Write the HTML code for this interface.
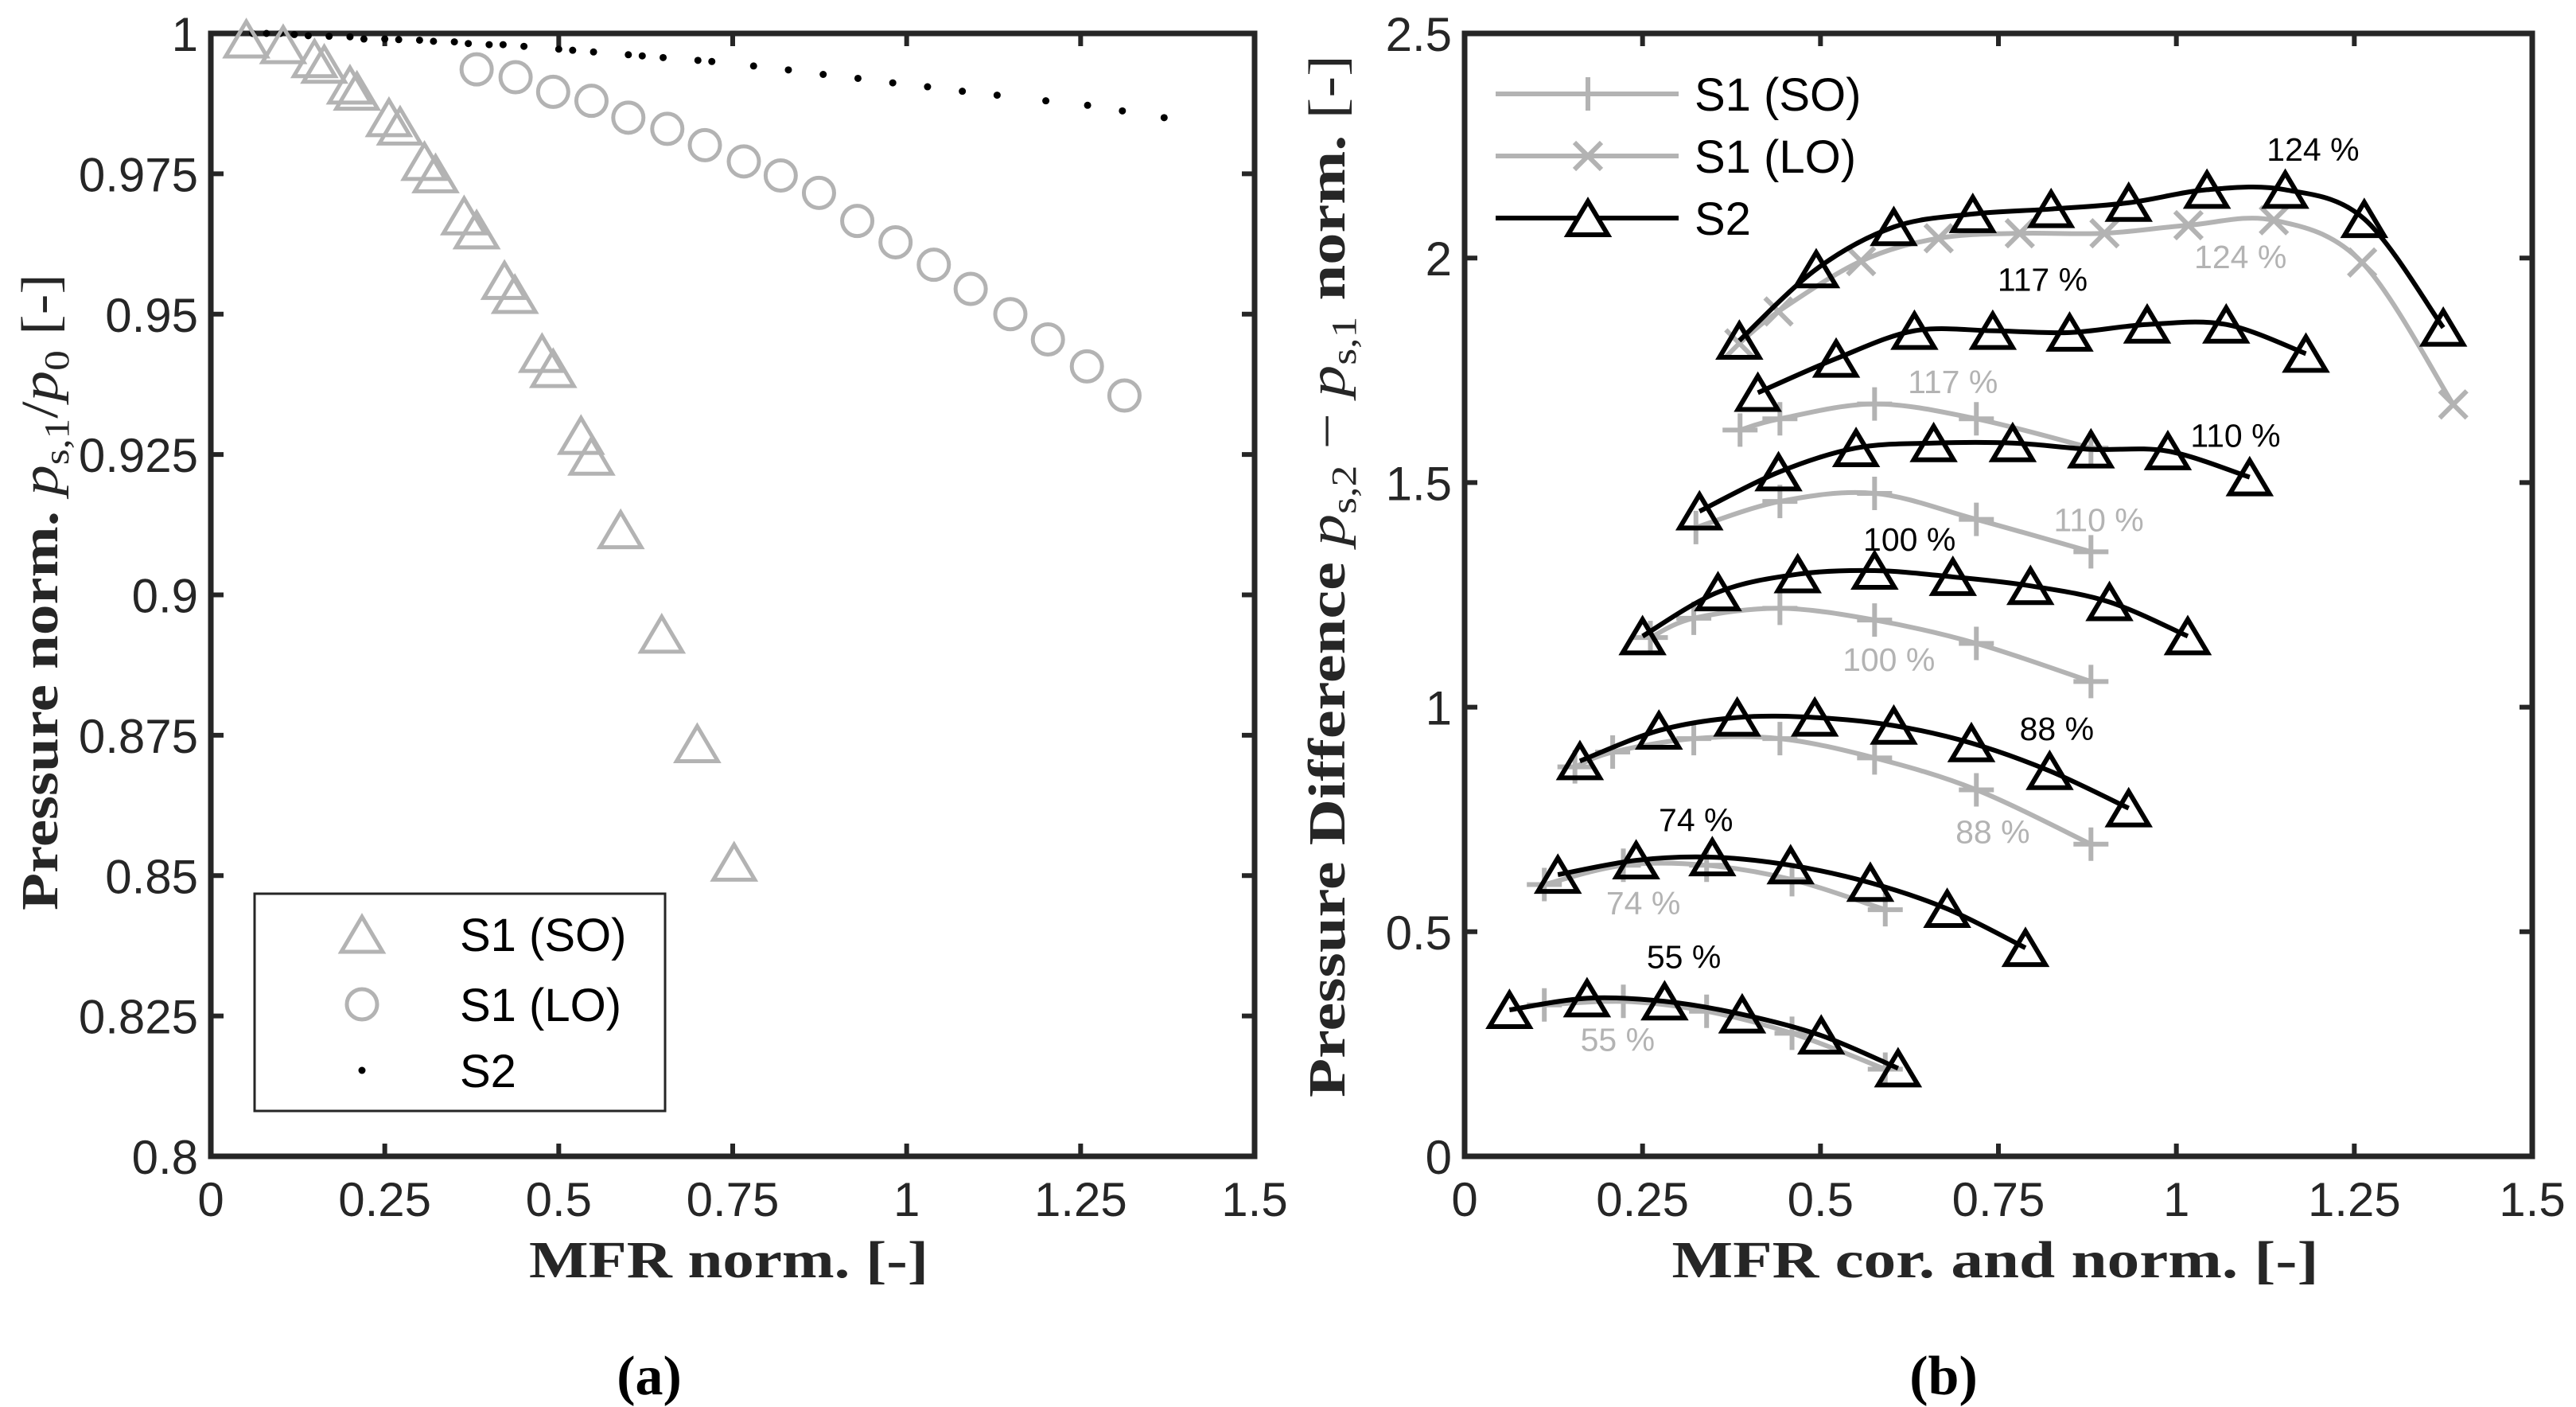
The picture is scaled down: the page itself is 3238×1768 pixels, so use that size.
<!DOCTYPE html>
<html><head><meta charset="utf-8"><style>
html,body{margin:0;padding:0;background:#fff;}
svg{display:block;}
</style></head><body>
<svg id="fig" xmlns="http://www.w3.org/2000/svg" width="3238" height="1768" viewBox="0 0 3238 1768">
<rect width="3238" height="1768" fill="#fff"/>
<g id="pa"></g>
<g id="pb"></g>
</svg>
<script>
// ---------- Panel (a) data ----------
const aXTicks = [0, 0.25, 0.5, 0.75, 1, 1.25, 1.5];
const aXTickLabels = ["0", "0.25", "0.5", "0.75", "1", "1.25", "1.5"];
const aYTicks = [0.8, 0.825, 0.85, 0.875, 0.9, 0.925, 0.95, 0.975, 1];
const aYTickLabels = ["0.8", "0.825", "0.85", "0.875", "0.9", "0.925", "0.95", "0.975", "1"];
const soX = [0.051,0.104,0.149,0.163,0.2,0.21,0.256,0.272,0.307,0.323,0.364,0.382,0.422,0.437,0.476,0.492,0.532,0.547,0.589,0.648,0.699,0.752];
const soY = [0.999,0.998,0.9955,0.9945,0.9908,0.9897,0.985,0.9835,0.9772,0.975,0.9675,0.965,0.956,0.9535,0.943,0.9403,0.9284,0.9247,0.9116,0.893,0.8735,0.8524];
const loX = [0.382,0.438,0.492,0.547,0.6,0.656,0.71,0.766,0.819,0.874,0.929,0.984,1.039,1.092,1.149,1.203,1.259,1.313];
const loY = [0.9936,0.9922,0.9896,0.988,0.985,0.983,0.9801,0.9772,0.9747,0.9716,0.9666,0.9628,0.9588,0.9545,0.95,0.9455,0.9407,0.9355];
const s2aX = [0.06,0.08,0.1,0.12,0.14,0.17,0.2,0.22,0.25,0.27,0.3,0.32,0.35,0.37,0.4,0.42,0.45,0.5,0.52,0.55,0.6,0.62,0.65,0.7,0.72,0.78,0.83,0.88,0.93,0.98,1.03,1.08,1.13,1.2,1.26,1.31,1.37];
const s2aY = [1.0,1.0,1.0,0.9998,0.9996,0.9995,0.9994,0.999,0.999,0.9989,0.9988,0.9986,0.9985,0.9982,0.998,0.998,0.9977,0.9972,0.997,0.9967,0.9962,0.996,0.9957,0.9952,0.995,0.9942,0.9935,0.9927,0.992,0.9912,0.9905,0.9897,0.989,0.988,0.9872,0.9862,0.985];

// ---------- Panel (b) data ----------
const bXTicks = [0, 0.25, 0.5, 0.75, 1, 1.25, 1.5];
const bXTickLabels = ["0", "0.25", "0.5", "0.75", "1", "1.25", "1.5"];
const bYTicks = [0, 0.5, 1, 1.5, 2, 2.5];
const bYTickLabels = ["0", "0.5", "1", "1.5", "2", "2.5"];
const speeds = ["55 %", "74 %", "88 %", "100 %", "110 %", "117 %", "124 %"];
const s2X = [
 [0.063,0.172,0.281,0.39,0.501,0.609],
 [0.131,0.241,0.348,0.458,0.570,0.678,0.788],
 [0.162,0.273,0.383,0.492,0.603,0.712,0.822,0.933],
 [0.250,0.356,0.468,0.576,0.686,0.795,0.906,1.016],
 [0.330,0.441,0.550,0.659,0.770,0.880,0.988,1.103],
 [0.412,0.522,0.632,0.742,0.850,0.959,1.070,1.182],
 [0.386,0.494,0.603,0.714,0.824,0.933,1.043,1.153,1.264,1.375]
];
const s2Y = [
 [0.326,0.352,0.345,0.316,0.269,0.196],
 [0.627,0.659,0.666,0.648,0.609,0.551,0.464],
 [0.88,0.948,0.977,0.977,0.959,0.92,0.858,0.775],
 [1.158,1.256,1.296,1.304,1.29,1.27,1.234,1.158],
 [1.436,1.523,1.577,1.588,1.588,1.574,1.57,1.512],
 [1.70,1.776,1.838,1.838,1.834,1.852,1.852,1.787],
 [1.816,1.975,2.069,2.098,2.109,2.123,2.152,2.152,2.087,1.845]
];
const soBX = [
 [0.112,0.223,0.340,0.460,0.591],
 [0.112,0.223,0.340,0.460,0.591],
 [0.155,0.208,0.322,0.443,0.576,0.719,0.880],
 [0.261,0.322,0.443,0.576,0.719,0.880],
 [0.325,0.443,0.576,0.719,0.880],
 [0.387,0.443,0.576,0.719,0.880],
 []
];
const soBY = [
 [0.337,0.345,0.323,0.274,0.194],
 [0.605,0.648,0.648,0.616,0.549],
 [0.867,0.9,0.93,0.93,0.887,0.816,0.695],
 [1.155,1.198,1.22,1.194,1.142,1.057],
 [1.40,1.458,1.476,1.418,1.346],
 [1.617,1.642,1.675,1.642,1.577],
 []
];
const loBX = [0.386,0.441,0.557,0.666,0.780,0.899,1.017,1.137,1.261,1.389];
const loBY = [1.81,1.881,1.993,2.044,2.055,2.055,2.073,2.084,1.99,1.674];
const blackLabelX = [0.308,0.325,0.832,0.625,1.083,0.812,1.192];
const blackLabelY = [0.446,0.75,0.953,1.375,1.606,1.953,2.243];
const grayLabelX = [0.215,0.251,0.742,0.596,0.891,0.686,1.09];
const grayLabelY = [0.261,0.565,0.724,1.107,1.418,1.726,2.004];

const NS = "http://www.w3.org/2000/svg";
function mk(parent, tag, attrs) {
  const e = document.createElementNS(NS, tag);
  for (const k in attrs) e.setAttribute(k, attrs[k]);
  parent.appendChild(e);
  return e;
}
const GRAY = "#b3b3b3", DARK = "#262626";

function smoothPath(pts) {
  if (pts.length < 2) return "";
  let d = "M" + pts[0][0].toFixed(1) + "," + pts[0][1].toFixed(1);
  for (let i = 0; i < pts.length - 1; i++) {
    const p0 = pts[i - 1] || pts[i], p1 = pts[i], p2 = pts[i + 1], p3 = pts[i + 2] || p2;
    const c1 = [p1[0] + (p2[0] - p0[0]) / 6, p1[1] + (p2[1] - p0[1]) / 6];
    const c2 = [p2[0] - (p3[0] - p1[0]) / 6, p2[1] - (p3[1] - p1[1]) / 6];
    d += "C" + c1.join(",") + " " + c2.join(",") + " " + p2.join(",");
  }
  return d;
}
function triPts(cx, cy, w, h) {
  return (cx - w/2) + "," + (cy + h/2) + " " + (cx + w/2) + "," + (cy + h/2) + " " + cx + "," + (cy - h/2);
}

function axesFrame(g, L, R, T, B, xs, ys, xTicks, xLabels, yTicks, yLabels, name) {
  const ax = mk(g, "g", {});
  
  
  xTicks.forEach((v, i) => {
    const x = xs(v);
    const t = mk(ax, "path", {d: `M${x},${B}V${B-16}M${x},${T}V${T+16}`, stroke: DARK, "stroke-width": 6});
    
    
    const tx = mk(ax, "text", {x: x, y: B + 75, "text-anchor": "middle", "font-family": "Liberation Sans, sans-serif", "font-size": 60, fill: DARK});
    tx.textContent = xLabels[i];
    
    
  });
  yTicks.forEach((v, i) => {
    const y = ys(v);
    const t = mk(ax, "path", {d: `M${L},${y}H${L+16}M${R},${y}H${R-16}`, stroke: DARK, "stroke-width": 6});
    
    
    const tx = mk(ax, "text", {x: L - 16, y: y + 22, "text-anchor": "end", "font-family": "Liberation Sans, sans-serif", "font-size": 60, fill: DARK});
    tx.textContent = yLabels[i];
    
    
  });
  const box = mk(ax, "rect", {x: L, y: T, width: R - L, height: B - T, fill: "none", stroke: DARK, "stroke-width": 7});
  
  
}

// ---------- Panel (a) ----------
(function () {
  const g = document.getElementById("pa");
  const L = 265, R = 1577, T = 42, B = 1453;
  const xs = v => L + (v - 0) / 1.5 * (R - L);
  const ys = v => B - (v - 0.8) / 0.2 * (B - T);
  axesFrame(g, L, R, T, B, xs, ys, aXTicks, aXTickLabels, aYTicks, aYTickLabels, "a");
  s2aX.forEach((x, i) => {
    const c = mk(g, "circle", {cx: xs(x), cy: ys(s2aY[i]), r: 4.5, fill: "#000"});
    
    
  });
  loX.forEach((x, i) => {
    const c = mk(g, "circle", {cx: xs(x), cy: ys(loY[i]), r: 19, fill: "none", stroke: GRAY, "stroke-width": 5});
    
    
  });
  soX.forEach((x, i) => {
    const p = mk(g, "polygon", {points: triPts(xs(x), ys(soY[i]), 52, 44), fill: "none", stroke: GRAY, "stroke-width": 5, "stroke-linejoin": "miter"});
    
    
  });
  const lg = mk(g, "g", {});
  
  
  mk(lg, "rect", {x: 320, y: 1123, width: 516, height: 273, fill: "#fff", stroke: DARK, "stroke-width": 3});
  const e1 = mk(lg, "polygon", {points: triPts(455, 1174, 52, 44), fill: "none", stroke: GRAY, "stroke-width": 5});
  
  
  const e2 = mk(lg, "circle", {cx: 455, cy: 1262, r: 19, fill: "none", stroke: GRAY, "stroke-width": 5});
  
  
  const e3 = mk(lg, "circle", {cx: 455, cy: 1345, r: 4.5, fill: "#000"});
  
  
  [["S1 (SO)", 1174], ["S1 (LO)", 1262], ["S2", 1345]].forEach(([t, y]) => {
    const tx = mk(lg, "text", {x: 578, y: y + 21, "font-family": "Liberation Sans, sans-serif", "font-size": 58, fill: "#000"});
    tx.textContent = t;
    
    
  });
  const xl = mk(g, "text", {x: 916, y: 1605, "text-anchor": "middle", "font-family": "Liberation Serif, serif", "font-weight": "bold", "font-size": 66, fill: DARK, textLength: 502, lengthAdjust: "spacingAndGlyphs"});
  xl.textContent = "MFR norm. [-]";
  
  
  const yl = mk(g, "text", {x: 0, y: 0, transform: "translate(72,744) rotate(-90)", "text-anchor": "middle", "font-family": "Liberation Serif, serif", "font-size": 66, fill: DARK, textLength: 800, lengthAdjust: "spacingAndGlyphs"});
  yl.innerHTML = '<tspan font-weight="bold">Pressure norm. </tspan><tspan font-style="italic">p</tspan><tspan font-size="44" dy="14">s,1</tspan><tspan dy="-14">/</tspan><tspan font-style="italic">p</tspan><tspan font-size="44" dy="14">0</tspan><tspan dy="-14"> [-]</tspan>';
  
  
  const cap = mk(g, "text", {x: 816, y: 1752, "text-anchor": "middle", "font-family": "Liberation Serif, serif", "font-weight": "bold", "font-size": 70, fill: "#000"});
  cap.textContent = "(a)";
  
  
})();

// ---------- Panel (b) ----------
(function () {
  const g = document.getElementById("pb");
  const L = 1841, R = 3183, T = 42, B = 1453;
  const xs = v => L + v / 1.5 * (R - L);
  const ys = v => B - v / 2.5 * (B - T);
  axesFrame(g, L, R, T, B, xs, ys, bXTicks, bXTickLabels, bYTicks, bYTickLabels, "b");
  const loPts = loBX.map((x, i) => [xs(x), ys(loBY[i])]);
  const lol = mk(g, "path", {d: smoothPath(loPts), fill: "none", stroke: GRAY, "stroke-width": 6});
  
  
  loPts.forEach(p => {
    const m = mk(g, "path", {d: `M${p[0]-17},${p[1]-17}L${p[0]+17},${p[1]+17}M${p[0]-17},${p[1]+17}L${p[0]+17},${p[1]-17}`, stroke: GRAY, "stroke-width": 6});
    
    
  });
  soBX.forEach((xsArr, k) => {
    if (!xsArr.length) return;
    const pts = xsArr.map((x, i) => [xs(x), ys(soBY[k][i])]);
    const l = mk(g, "path", {d: smoothPath(pts), fill: "none", stroke: GRAY, "stroke-width": 6});
    
    
    pts.forEach(p => {
      const m = mk(g, "path", {d: `M${p[0]-22},${p[1]}H${p[0]+22}M${p[0]},${p[1]-21}V${p[1]+21}`, stroke: GRAY, "stroke-width": 6});
      
      
    });
  });
  s2X.forEach((xsArr, k) => {
    const pts = xsArr.map((x, i) => [xs(x), ys(s2Y[k][i])]);
    const l = mk(g, "path", {d: smoothPath(pts), fill: "none", stroke: "#000", "stroke-width": 6});
    
    
    pts.forEach(p => {
      const m = mk(g, "polygon", {points: triPts(p[0], p[1], 50, 42), fill: "none", stroke: "#000", "stroke-width": 6});
      
      
    });
  });
  speeds.forEach((s, i) => {
    const t1 = mk(g, "text", {x: xs(blackLabelX[i]), y: ys(blackLabelY[i]) + 15, "text-anchor": "middle", "font-family": "Liberation Sans, sans-serif", "font-size": 41, fill: "#000"});
    t1.textContent = s;
    
    
    const t2 = mk(g, "text", {x: xs(grayLabelX[i]), y: ys(grayLabelY[i]) + 15, "text-anchor": "middle", "font-family": "Liberation Sans, sans-serif", "font-size": 41, fill: GRAY});
    t2.textContent = s;
    
    
  });
  const lg = mk(g, "g", {});
  
  
  const rows = [118, 196, 274];
  const l1 = mk(lg, "path", {d: `M1880,${rows[0]}H2110M1974,${rows[0]}H2018M1996,${rows[0]-21}V${rows[0]+21}`, stroke: GRAY, "stroke-width": 6, fill: "none"});
  
  
  const l2 = mk(lg, "path", {d: `M1880,${rows[1]}H2110M1979,${rows[1]-17}L2013,${rows[1]+17}M1979,${rows[1]+17}L2013,${rows[1]-17}`, stroke: GRAY, "stroke-width": 6, fill: "none"});
  
  
  const l3 = mk(lg, "path", {d: `M1880,${rows[2]}H2110`, stroke: "#000", "stroke-width": 6});
  
  
  const l3m = mk(lg, "polygon", {points: triPts(1996, rows[2], 50, 42), fill: "#fff", stroke: "#000", "stroke-width": 6});
  
  
  [["S1 (SO)", rows[0]], ["S1 (LO)", rows[1]], ["S2", rows[2]]].forEach(([t, y]) => {
    const tx = mk(lg, "text", {x: 2130, y: y + 21, "font-family": "Liberation Sans, sans-serif", "font-size": 58, fill: "#000"});
    tx.textContent = t;
    
    
  });
  const xl = mk(g, "text", {x: 2508, y: 1605, "text-anchor": "middle", "font-family": "Liberation Serif, serif", "font-weight": "bold", "font-size": 66, fill: DARK, textLength: 813, lengthAdjust: "spacingAndGlyphs"});
  xl.textContent = "MFR cor. and norm. [-]";
  
  
  const yl = mk(g, "text", {x: 0, y: 0, transform: "translate(1690,724) rotate(-90)", "text-anchor": "middle", "font-family": "Liberation Serif, serif", "font-size": 66, fill: DARK, textLength: 1310, lengthAdjust: "spacingAndGlyphs"});
  yl.innerHTML = '<tspan font-weight="bold">Pressure Difference </tspan><tspan font-style="italic">p</tspan><tspan font-size="44" dy="14">s,2</tspan><tspan dy="-14"> − </tspan><tspan font-style="italic">p</tspan><tspan font-size="44" dy="14">s,1</tspan><tspan dy="-14" font-weight="bold"> norm. </tspan><tspan>[-]</tspan>';
  
  
  const cap = mk(g, "text", {x: 2443, y: 1752, "text-anchor": "middle", "font-family": "Liberation Serif, serif", "font-weight": "bold", "font-size": 70, fill: "#000"});
  cap.textContent = "(b)";
  
  
})();
</script>
</body></html>
